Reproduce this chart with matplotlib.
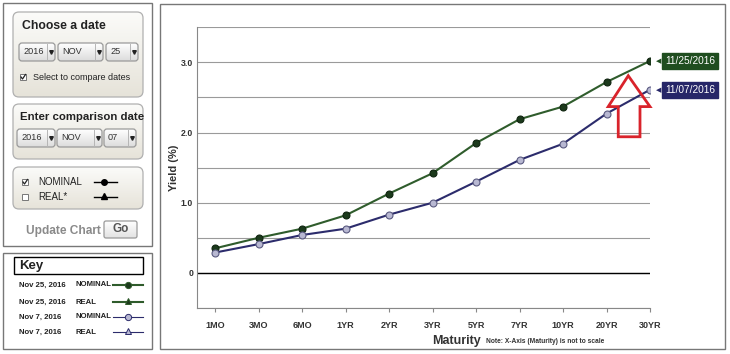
import numpy as np
import matplotlib
matplotlib.use('Agg')
import matplotlib.pyplot as plt
from matplotlib.patches import FancyBboxPatch, Rectangle, Polygon

plt.rcParams['font.family'] = ['Liberation Sans', 'DejaVu Sans']

# du lieu duong cong loi suat
maturities = ['1MO', '3MO', '6MO', '1YR', '2YR', '3YR', '5YR', '7YR', '10YR', '20YR', '30YR']
yield_nov25 = [0.35, 0.50, 0.63, 0.82, 1.13, 1.42, 1.85, 2.19, 2.37, 2.72, 3.02]
yield_nov7 = [0.29, 0.41, 0.54, 0.63, 0.83, 1.00, 1.30, 1.61, 1.84, 2.27, 2.61]
date_labels = ['11/25/2016', '11/07/2016']
y_ticks = [-0.5, 0, 0.5, 1.0, 1.5, 2.0, 2.5, 3.0, 3.5]
y_ticklabels = ['', '0', '', '1.0', '', '2.0', '', '3.0', '']

green_line = '#2f5c2c'
green_dot = '#1c3a1c'
navy_line = '#2c2c6c'
navy_dot = '#b8b8d2'

fig = plt.figure(figsize=(7.3, 3.54), dpi=100)

# lop giao dien (toa do pixel)
ui = fig.add_axes([0, 0, 1, 1])
ui.set_xlim(0, 730)
ui.set_ylim(354, 0)
ui.axis('off')

grad = np.linspace(0, 1, 64).reshape(-1, 1)


def panel(x, y, w, h, top='#fbfbf9', bot='#e6e3d9', ec='#b0b0b0', r=6):
    box = FancyBboxPatch((x, y), w, h, boxstyle=f'round,pad=0,rounding_size={r}',
                         fc='none', ec=ec, lw=0.9, zorder=3)
    ui.add_patch(box)
    cmap = matplotlib.colors.LinearSegmentedColormap.from_list('g', [top, bot])
    im = ui.imshow(grad, cmap=cmap, extent=(x, x + w, y + h, y), aspect='auto', zorder=2)
    im.set_clip_path(box)


def dropdown(x, y, w, h, text):
    panel(x, y, w, h, top='#ffffff', bot='#dcdcdc', ec='#9a9a9a', r=3)
    ui.plot([x + w - 8, x + w - 8], [y + 1, y + h - 1], color='#b5b5b5', lw=0.7, zorder=4)
    ui.plot(x + w - 4, y + h / 2, marker='v', ms=2.6, color='#222222', zorder=4)
    ui.text(x + 4, y + h / 2, text, fontsize=6.6, va='center', color='#333333', zorder=4)


def checkbox(x, y, checked):
    ui.add_patch(Rectangle((x, y), 6, 6, fc='white', ec='#777777', lw=0.7, zorder=4))
    if checked:
        ui.plot([x + 1, x + 2.5, x + 5.5], [y + 3, y + 5, y + 0.5], color='#222222', lw=0.9, zorder=5)


# khung ngoai
ui.add_patch(Rectangle((2.5, 3), 149, 242.5, fc='none', ec='#777777', lw=1))
ui.add_patch(Rectangle((2.5, 252.5), 149, 96.5, fc='none', ec='#777777', lw=1))
ui.add_patch(Rectangle((159.5, 3.5), 565.5, 345.5, fc='none', ec='#777777', lw=1))

# Choose a date
panel(13, 12, 130, 85)
ui.text(22, 26, 'Choose a date', fontsize=8.8, fontweight='bold', va='center', color='#222222', zorder=4)
dropdown(19, 43, 36, 18, '2016')
dropdown(58, 43, 45, 18, 'NOV')
dropdown(106, 43, 32, 18, '25')
checkbox(20, 74, True)
ui.text(33, 77, 'Select to compare dates', fontsize=6.5, va='center', color='#222222', zorder=4)

# Enter comparison date
panel(13, 104, 130, 55)
ui.text(20, 117, 'Enter comparison date', fontsize=8.2, fontweight='bold', va='center', color='#222222', zorder=4)
dropdown(17, 129, 38, 18, '2016')
dropdown(57, 129, 45, 18, 'NOV')
dropdown(104, 129, 32, 18, '07')

# NOMINAL / REAL
panel(13, 167, 130, 42)
checkbox(22, 179, True)
ui.text(38, 182, 'NOMINAL', fontsize=7, va='center', color='#222222', zorder=4)
ui.plot([94, 117], [182, 182], color='black', lw=1, zorder=4)
ui.plot(104, 182, marker='o', ms=4, color='black', zorder=5)
checkbox(22, 194, False)
ui.text(38, 197, 'REAL*', fontsize=7, va='center', color='#222222', zorder=4)
ui.plot([94, 117], [197, 197], color='black', lw=1, zorder=4)
ui.plot(104, 196, marker='^', ms=4.5, color='black', zorder=5)

# Update Chart
ui.text(26, 231, 'Update Chart', fontsize=8.6, fontweight='bold', va='center', color='#8a8a8a', zorder=4)
panel(104, 221, 33, 17, top='#ffffff', bot='#e2e2e2', ec='#9a9a9a', r=2)
ui.text(120.5, 229.5, 'Go', fontsize=8.5, fontweight='bold', ha='center', va='center', color='#555555', zorder=4)

# Key
ui.add_patch(Rectangle((14, 257), 129, 17, fc='white', ec='black', lw=1))
ui.text(19, 265.5, 'Key', fontsize=9.5, fontweight='bold', va='center', color='#222222')
key_rows = [('Nov 25, 2016', 'NOMINAL', green_line, green_dot, 'o', 285),
            ('Nov 25, 2016', 'REAL', green_line, green_dot, '^', 302),
            ('Nov 7, 2016', 'NOMINAL', navy_line, navy_dot, 'o', 317),
            ('Nov 7, 2016', 'REAL', navy_line, navy_dot, '^', 332)]
for d, kind, lc, mc, mk, yy in key_rows:
    ui.text(19, yy, d, fontsize=5.6, fontweight='bold', va='center', color='#222222')
    ui.text(75, yy, kind, fontsize=5.6, fontweight='bold', va='center', color='#222222')
    lw = 1.5 if lc == green_line else 0.8
    ui.plot([113, 143], [yy, yy], color=lc, lw=lw)
    ui.plot(128, yy - (1 if mk == '^' else 0), marker=mk, ms=4.5, mfc=mc, mec=lc, mew=0.7)

# bieu do chinh
ax = fig.add_axes([197.3 / 730, 46 / 354, 452.7 / 730, 280.7 / 354])
ax.set_facecolor('none')
x = np.arange(len(maturities))

ax.set_xlim(-0.407, len(maturities) - 1)
ax.set_ylim(-0.5, 3.5)
ax.set_yticks(y_ticks)
ax.set_yticklabels(y_ticklabels)
ax.grid(axis='y', color='#9a9a9a', lw=0.8)
ax.axhline(0, color='black', lw=1)
ax.set_xticks(x)
ax.set_xticklabels(maturities)
ax.tick_params(axis='x', length=3, color='#888888', pad=6, labelsize=6.5)
ax.tick_params(axis='y', length=0, pad=3, labelsize=6.3)
for lab in ax.get_xticklabels() + ax.get_yticklabels():
    lab.set_fontweight('bold')
    lab.set_color('#333333')
for s in ['top', 'right']:
    ax.spines[s].set_visible(False)
ax.spines['left'].set_color('#888888')
ax.spines['bottom'].set_color('#888888')

ax.plot(x, yield_nov25, color=green_line, lw=1.5, marker='o', ms=5,
        mfc=green_dot, mec='#0f240f', mew=0.8, zorder=5)
ax.plot(x, yield_nov7, color=navy_line, lw=1.5, marker='o', ms=5,
        mfc=navy_dot, mec='#5a5a80', mew=0.8, zorder=5)

ax.set_ylabel('Yield (%)', fontsize=8, fontweight='bold', color='#333333')
ax.yaxis.set_label_coords(-0.04, 0.5)
ax.set_xlabel('Maturity', fontsize=9, fontweight='bold', color='#333333')
ax.xaxis.label.set_va('center')
ax.xaxis.set_label_coords(0.572, -0.117)
ax.text(0.638, -0.121, 'Note: X-Axis (Maturity) is not to scale', transform=ax.transAxes,
        fontsize=4.8, fontweight='bold', va='center', color='#333333')

# nhan ngay o cuoi duong
for yv, lab, col in [(yield_nov25[-1], date_labels[0], '#1f4d1f'),
                     (yield_nov7[-1], date_labels[1], '#262668')]:
    ax.annotate(lab, xy=(x[-1], yv), xytext=(11, 0), textcoords='offset points',
                fontsize=7.3, color='white', va='center', ha='left', annotation_clip=False,
                bbox=dict(boxstyle='square,pad=0.28', fc=col, ec=col))
    ax.annotate('\u25C0', xy=(x[-1], yv), xytext=(4.5, 0), textcoords='offset points',
                fontsize=5, color=col, va='center', ha='left', annotation_clip=False,
                family='DejaVu Sans')

# mui ten do
arrow = Polygon([(9.50, 2.81), (10.0, 2.37), (9.77, 2.37), (9.77, 1.94),
                 (9.27, 1.94), (9.27, 2.37), (9.04, 2.37)], closed=True,
                fc='none', ec='#d9232b', lw=2, zorder=6, clip_on=False)
ax.add_patch(arrow)

fig.savefig('out.png', dpi=100)
